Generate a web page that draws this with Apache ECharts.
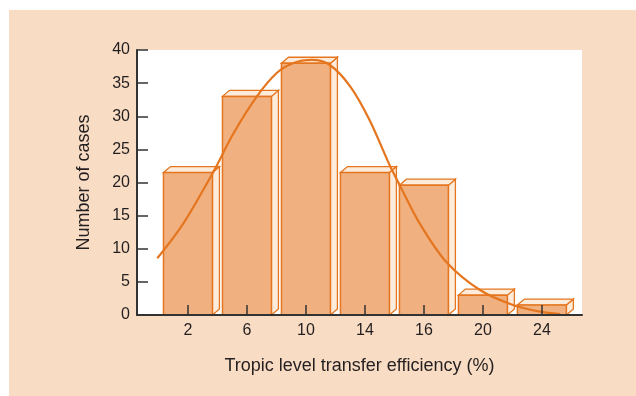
<!DOCTYPE html>
<html>
<head>
<meta charset="utf-8">
<script src="https://cdn.jsdelivr.net/npm/echarts@6/dist/echarts.min.js"></script>
<style>
  html, body { margin: 0; padding: 0; background: #ffffff; }
  #chart { width: 636px; height: 396px; }
</style>
</head>
<body>
<div id="chart"></div>
<script>
// categories on the x axis (tropic level transfer efficiency, %)
var categories = ['2', '6', '10', '14', '16', '20', '24'];
// bar heights (number of cases)
var caseCounts = [21.5, 33, 38, 21.5, 19.6, 3, 1.5];
// fitted curve: [category position, cases]
var curveX = [-0.52, -0.08, 0.43, 0.77, 1.16, 1.50, 1.78, 2.10, 2.41, 2.75, 3.08, 3.42, 3.59, 3.93, 4.38, 4.95, 5.51, 5.97, 6.31];
var curveY = [8.56, 13.8, 21.6, 27.4, 32.9, 36.5, 38.0, 38.5, 37.7, 34.5, 29.4, 22.6, 19.6, 13.8, 8.0, 3.77, 1.51, 0.5, 0.15];

var orange = '#e5761f';
var barFace = '#f0b07f';
var barSide = '#fdebdc';
var ink = '#231f20';

var barData = caseCounts.map(function (v, i) { return [i, v]; });
var curveData = curveX.map(function (x, i) { return [x, curveY[i]]; });

var dom = document.getElementById('chart');
var chart = echarts.init(dom, null, { renderer: 'canvas' });

var option = {
    animation: false,
    backgroundColor: '#ffffff',
    graphic: [{
        type: 'rect',
        shape: { x: 9, y: 10, width: 627, height: 386 },
        style: { fill: '#f9dcc4' },
        z: -10
    }],
    grid: {
        left: 137,
        right: 54,
        top: 50,
        bottom: 81,
        show: true,
        backgroundColor: '#ffffff',
        borderWidth: 0
    },
    xAxis: {
        type: 'value',
        min: -0.864,
        max: 6.68,
        z: 10,
        name: 'Tropic level transfer efficiency (%)',
        nameLocation: 'middle',
        nameGap: 42,
        nameTextStyle: { fontFamily: 'Liberation Sans', fontSize: 18, color: ink },
        splitLine: { show: false },
        axisLine: { show: true, onZero: false, lineStyle: { color: '#333333', width: 2 } },
        axisTick: {
            show: true,
            inside: true,
            length: 10,
            customValues: [0, 1, 2, 3, 4, 5, 6],
            lineStyle: { color: '#333333', width: 1.5 }
        },
        axisLabel: {
            customValues: [0, 1, 2, 3, 4, 5, 6],
            formatter: function (v) { return categories[Math.round(v)]; },
            fontFamily: 'Liberation Sans',
            fontSize: 16,
            color: ink,
            margin: 8
        }
    },
    yAxis: {
        type: 'value',
        min: 0,
        max: 40,
        interval: 5,
        z: 10,
        name: 'Number of cases',
        nameLocation: 'middle',
        nameGap: 44,
        nameTextStyle: { fontFamily: 'Liberation Sans', fontSize: 18, color: ink },
        splitLine: { show: false },
        axisLine: { show: true, onZero: false, lineStyle: { color: '#333333', width: 2 } },
        axisTick: { show: true, inside: true, length: 11, lineStyle: { color: '#333333', width: 1.5 } },
        axisLabel: { fontFamily: 'Liberation Sans', fontSize: 16, color: ink, margin: 7 }
    },
    series: [
        {
            name: 'cases',
            type: 'custom',
            data: barData,
            z: 2,
            renderItem: function (params, api) {
                var i = api.value(0);
                var v = api.value(1);
                var tl = api.coord([i - 0.415, v]);
                var br = api.coord([i + 0.415, 0]);
                var dx = 7, dy = 6;
                return {
                    type: 'group',
                    children: [
                        {
                            type: 'polygon',
                            shape: { points: [[br[0], br[1]], [br[0] + dx, br[1] - dy], [br[0] + dx, tl[1] - dy], [br[0], tl[1]]] },
                            style: { fill: barSide, stroke: orange, lineWidth: 1.3 }
                        },
                        {
                            type: 'polygon',
                            shape: { points: [[tl[0], tl[1]], [tl[0] + dx, tl[1] - dy], [br[0] + dx, tl[1] - dy], [br[0], tl[1]]] },
                            style: { fill: barSide, stroke: orange, lineWidth: 1.3 }
                        },
                        {
                            type: 'rect',
                            shape: { x: tl[0], y: tl[1], width: br[0] - tl[0], height: br[1] - tl[1] },
                            style: { fill: barFace, stroke: orange, lineWidth: 1.5 }
                        }
                    ]
                };
            }
        },
        {
            name: 'fit',
            type: 'line',
            data: curveData,
            smooth: 0.3,
            showSymbol: false,
            z: 5,
            lineStyle: { color: orange, width: 2.2 }
        }
    ]
};

chart.setOption(option);
</script>
</body>
</html>
